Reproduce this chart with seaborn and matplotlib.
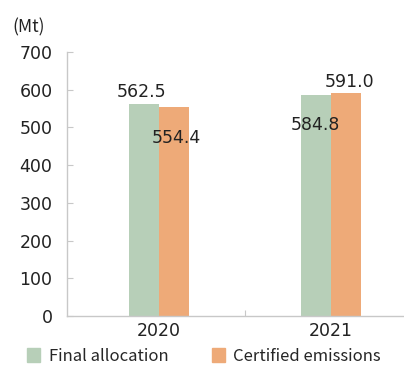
import pandas as pd
import matplotlib.pyplot as plt
import seaborn as sns
from matplotlib.ticker import FixedLocator

years = ["2020", "2021"]
series = ["Final allocation", "Certified emissions"]
final_allocation = [562.5, 584.8]
certified_emissions = [554.4, 591.0]
colors = ["#b7cfb8", "#eeaa78"]

df = pd.DataFrame({
    "year": years * 2,
    "kind": [series[0]] * 2 + [series[1]] * 2,
    "value": final_allocation + certified_emissions,
})

sns.set_style("white")
plt.rcParams['font.family'] = ['Noto Sans CJK KR', 'DejaVu Sans']
num_font = "DejaVu Sans"

fig = plt.figure(figsize=(4.04, 3.65), dpi=100)
ax = fig.add_axes([67 / 404, 1 - 316 / 365, 1 - 67 / 404, (316 - 52) / 365])

sns.barplot(data=df, x="year", y="value", hue="kind", palette=colors,
            width=0.35, gap=0, saturation=1, linewidth=0, legend=False, ax=ax)

ax.set_ylim(0, 700)
ax.set_xlim(-0.535, 1.424)
ax.set_yticks(range(0, 701, 100))
ax.set_xlabel("")
ax.set_ylabel("")

for s in ["top", "right"]:
    ax.spines[s].set_visible(False)
for s in ["left", "bottom"]:
    ax.spines[s].set_color("#c8c8c8")
    ax.spines[s].set_linewidth(1)

ax.tick_params(axis="y", direction="in", length=4, width=0.8, color="#c8c8c8",
               pad=10.5, labelsize=12.5, labelcolor="#222222", left=True)
ax.tick_params(axis="x", which="major", length=0, pad=4,
               labelsize=12.5, labelcolor="#222222")
ax.xaxis.set_minor_locator(FixedLocator([0.5]))
ax.tick_params(axis="x", which="minor", direction="in", length=4, width=0.8,
               color="#c8c8c8", bottom=True)
for lab in ax.get_xticklabels() + ax.get_yticklabels():
    lab.set_fontfamily(num_font)

# label placement: (dx, dy) pixels from bar top, per hue / per year
offsets = [[(-2, 12), (-1, -30)], [(2, -31), (3, 11)]]
for i, cont in enumerate(ax.containers):
    for j, bar in enumerate(cont):
        h = bar.get_height()
        dx, dy = offsets[i][j]
        ax.annotate(f"{h:.1f}", (bar.get_x() + bar.get_width() / 2, h),
                    xytext=(dx, dy), textcoords="offset pixels",
                    ha="center", va="center", fontsize=12.5, color="#222222",
                    family=num_font)

handles = [plt.Rectangle((0, 0), 1, 1, color=c) for c in colors]
fig.legend(handles, series, loc="lower center", bbox_to_anchor=(0.505, -0.04),
           ncol=2, frameon=False, fontsize=12, handlelength=0.8,
           handleheight=0.9, handletextpad=0.5, columnspacing=2.6)

fig.text(12 / 404, 1 - 27 / 365, "(Mt)", ha="left", va="center",
         fontsize=12.5, color="#222222")

fig.savefig("out.png", dpi=100)
